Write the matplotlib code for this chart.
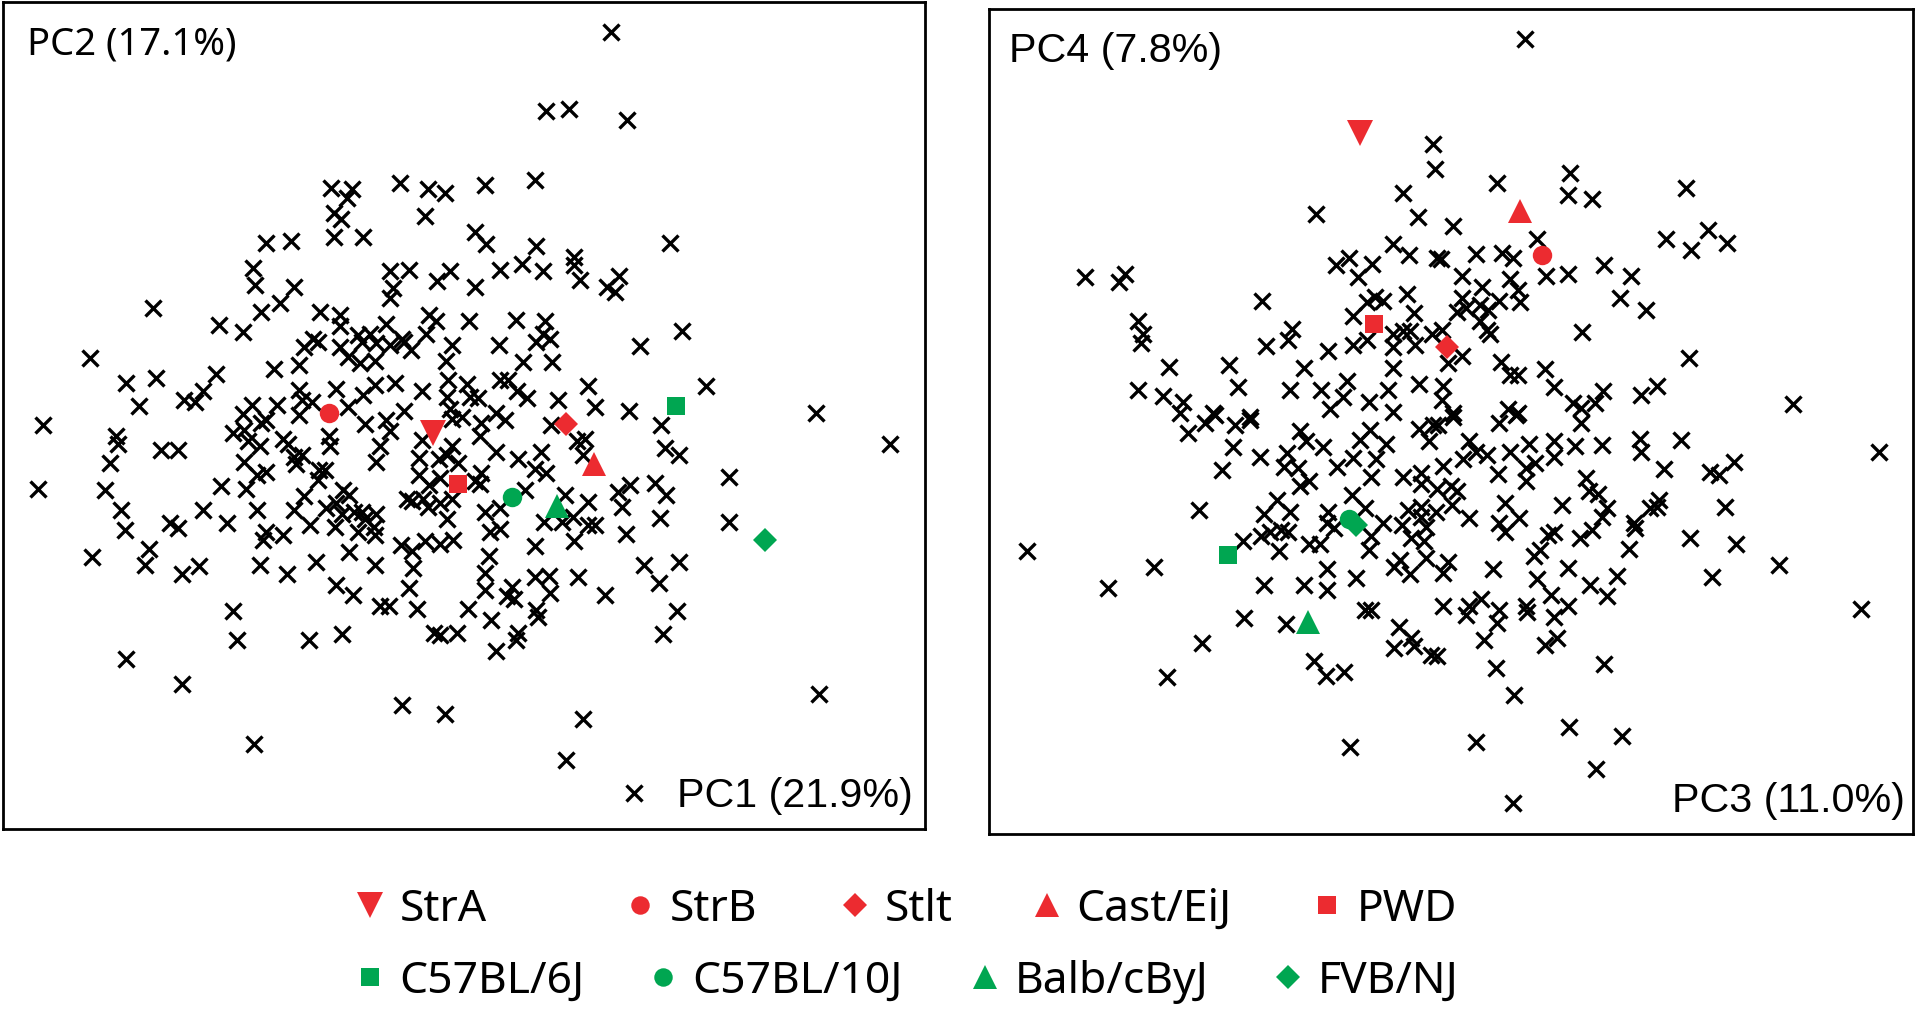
import numpy as np
import matplotlib.pyplot as plt
from matplotlib.lines import Line2D

# explained variance of the components (%)
pc_var = [21.9, 17.1, 11.0, 7.8]

# PC1 / PC2 scores of the individual mice (black crosses), arbitrary units
left_scores = [
    (-129, 246), (-112, 245), (-116, 238), (-127, 226), (-121, 221), (-127, 206),
    (-103, 206), (-182, 201), (-162, 203), (-193, 181), (-191, 167), (-159, 165),
    (-171, 152), (-186, 145), (-275, 148), (-221, 134), (-201, 128), (-138, 145),
    (-122, 142), (-122, 133), (-107, 126), (-97, 127), (-144, 123),
    (100, 374), (47, 309), (66, 311), (113, 302), (-73, 250), (-50, 245),
    (-36, 242), (-52, 223), (-3, 249), (38, 253), (-11, 210), (-2, 200),
    (39, 199), (148, 201), (70, 190), (70, 183), (75, 171), (97, 165),
    (107, 174), (103, 161), (-81, 178), (-65, 179), (-42, 170), (-32, 178),
    (-11, 165), (9, 179), (27, 184), (44, 178), (-78, 164), (-81, 156),
    (-84, 135), (-49, 142), (-43, 137), (-16, 137), (22, 138), (46, 137),
    (44, 127), (158, 129), (-51, 127), (-71, 123),
    (-326, 107), (-297, 87), (-272, 91), (-223, 94), (-249, 73), (-234, 80),
    (-240, 71), (-286, 68), (-365, 52), (-305, 43), (-303, 37), (-268, 32),
    (-254, 32), (-310, 21), (-369, 0), (-314, -1), (-301, -17), (-298, -34),
    (-278, -49), (-281, -62), (-325, -56), (-251, -70), (-237, -63), (-261, -28),
    (-254, -32), (-234, -17), (-214, -28), (-219, 2), (-199, 0), (-209, -100),
    (-206, -124), (-147, -124), (-120, -119), (-297, -139), (-251, -160),
    (-187, -62), (-165, -70), (-141, -60), (-114, -52), (-125, -79), (-111, -87),
    (-176, 98), (-155, 101), (-151, 116), (-140, 120), (-122, 116), (-104, 120),
    (-115, 108), (-105, 103), (-125, 82), (-115, 67), (-103, 77), (-101, 53),
    (-131, 43), (-130, 35), (-155, 81), (-153, 73), (-145, 71), (-155, 60),
    (-173, 69), (-194, 69), (-201, 61), (-182, 56), (-186, 54), (-209, 46),
    (-200, 48), (-197, 39), (-187, 35), (-168, 41), (-164, 37), (-159, 26),
    (-153, 28), (-158, 20), (-200, 22), (-190, 11), (-182, 14), (-139, 15),
    (-134, 15), (-140, 7), (-151, -6), (-159, -17), (-146, -30), (-190, -17),
    (-182, -35), (-185, -42), (-168, -38), (-133, -16), (-125, -12), (-119, -1),
    (-114, -5), (-120, -21), (-126, -31), (-110, -19), (-104, -19), (-101, -25),
    (-107, -35),
    (-92, 119), (-81, 118), (-69, 120), (-64, 114), (-30, 118), (8, 118),
    (39, 120), (50, 123), (124, 117), (-93, 105), (-35, 105), (28, 104),
    (52, 104), (178, 84), (81, 84), (87, 67), (115, 64), (141, 52),
    (144, 33), (156, 28), (197, 10), (197, -27), (-93, 85), (-77, 87),
    (-55, 80), (-33, 89), (-34, 75), (-18, 86), (-15, 75), (-9, 74),
    (9, 89), (16, 89), (23, 80), (31, 74), (57, 73), (-69, 64),
    (-84, 56), (-81, 47), (-32, 65), (-30, 57), (-22, 59), (-6, 54),
    (-7, 43), (6, 62), (13, 56), (51, 52), (72, 39), (79, 41),
    (77, 28), (-89, 35), (-92, 22), (-55, 40), (-57, 25), (-41, 24),
    (-34, 28), (-30, 35), (-25, 21), (6, 30), (24, 24), (43, 30),
    (38, 16), (47, 13), (-57, 11), (-49, 3), (-40, 9), (-11, 6),
    (-6, 13), (-7, 4), (30, -1), (-67, -8), (-63, -10), (-54, -8),
    (-50, -15), (-40, -12), (-30, -8), (-3, -19), (9, -16), (62, -5),
    (81, -11), (106, -3), (116, 3), (136, 5), (145, -5), (109, -15),
    (140, -24), (-92, -21), (-94, -31), (-93, -38), (-34, -25), (1, -35),
    (9, -33), (45, -27), (60, -27), (69, -23), (81, -30), (87, -30),
    (112, -37), (70, -43), (38, -47), (-72, -46), (-63, -51), (-52, -43),
    (-40, -45), (-29, -42), (0, -55), (-93, -62), (-62, -65), (-3, -69),
    (38, -72), (49, -71), (73, -72), (127, -62), (156, -60), (139, -77),
    (95, -87), (-65, -81), (-3, -83), (19, -80), (15, -88), (21, -90),
    (50, -85), (-89, -96), (-82, -96), (-59, -98), (-17, -98), (2, -107),
    (39, -99), (40, -105), (154, -100), (-45, -118), (-40, -120), (-26, -118),
    (24, -118), (22, -124), (6, -133), (143, -119),
    (268, 62), (328, 37), (270, -168), (119, -249), (63, -222), (77, -188),
    (-71, -177), (-36, -184), (-192, -209),
]

# PC3 / PC4 scores of the individual mice
right_scores = [
    (-27, 282), (-26, 262), (-52, 242), (-123, 225), (-40, 222), (-60, 200),
    (-47, 191), (-24, 189), (-107, 183), (-96, 189), (-77, 184), (-89, 173),
    (-312, 173), (-279, 176), (-284, 169), (-167, 154), (-49, 159), (-81, 153),
    (-75, 157), (-68, 154), (-43, 144), (-93, 141), (-269, 137), (-265, 127),
    (-266, 119), (-143, 131), (-146, 122), (-164, 117), (-113, 113), (-93, 118),
    (-81, 122), (-60, 127), (-52, 129), (-46, 129), (-60, 116), (-42, 118),
    (-28, 127), (-243, 100), (-194, 101), (-187, 83), (-133, 99), (-60, 99),
    (-39, 86), (-269, 81), (-248, 76), (-232, 71), (-234, 62), (-207, 62),
    (-177, 59), (-144, 81), (-119, 81), (-98, 88), (-101, 75), (-112, 65),
    (-80, 71), (-64, 81), (-60, 63),
    (48, 368), (25, 250), (85, 258), (83, 240), (103, 237), (180, 246),
    (-11, 215), (58, 204), (163, 204), (184, 195), (198, 212), (213, 201),
    (-21, 188), (8, 192), (29, 193), (38, 189), (-4, 174), (13, 165),
    (36, 172), (42, 163), (44, 153), (27, 154), (65, 174), (83, 176),
    (113, 183), (135, 174), (126, 156), (147, 146), (-4, 156), (0, 148),
    (-8, 145), (11, 150), (18, 146), (11, 137), (17, 130), (19, 127),
    (-20, 130), (95, 128), (182, 107), (-4, 109), (-15, 103), (28, 104),
    (36, 93), (42, 93), (64, 98), (72, 83), (-19, 84), (-20, 73),
    (112, 80), (105, 70), (87, 70), (94, 66), (143, 77), (156, 84),
    (267, 69), (34, 65), (42, 62), (-11, 62),
    (-360, -51), (-256, -64), (-293, -81), (-219, -17), (-182, -106), (-148, -111),
    (-216, -126), (-245, -154), (-125, -141), (-115, -153), (-100, -150), (-95, -211),
    (-166, -79), (-133, -79), (-114, -83), (-114, -66), (-90, -73), (-83, -99),
    (-78, -99), (-55, -113), (-45, -122), (-59, -130), (-43, -129), (-29, -136),
    (-183, -43), (-168, -39), (-161, -35), (-152, -34), (-146, -35), (-153, -51),
    (-166, -21), (-144, -19), (-155, -9), (-129, -45), (-120, -45), (-114, -28),
    (-113, -19), (-108, -32), (-94, -5), (-83, -16), (-78, -39), (-80, -50),
    (-68, -28), (-53, -30), (-48, -17), (-37, -15), (-37, -23), (-33, -31),
    (-45, -40), (-35, -43), (-54, -58), (-59, -64), (-46, -70), (-33, -57),
    (-106, 18), (-93, 25), (-78, 10), (-74, 24), (-87, 40), (-79, 48),
    (-66, 37), (-52, 10), (-37, 13), (-37, 4), (-39, 49), (-31, 39),
    (-27, 52), (-117, 34), (-136, 47), (-131, 39), (-147, 29), (-138, 17),
    (-129, 6), (-136, 2), (-149, 18), (-169, 26), (-191, 34), (-200, 15),
    (-228, 46), (-214, 54), (-206, 60), (-189, 52), (-177, 56),
    (338, 30), (323, -98), (256, -62), (201, -72), (221, -45), (183, -40),
    (212, -15), (219, 22), (207, 11), (199, 14), (176, 40), (162, 16),
    (142, 41), (143, 30), (158, -9), (156, -15), (150, -16), (137, -28),
    (138, -32), (133, -49), (123, -71), (115, -88), (101, -79), (83, -96),
    (83, -65), (72, -105), (74, -122), (64, -128), (50, -101), (49, -96),
    (69, -87), (58, -74), (55, -55), (60, -50), (67, -38), (72, -35),
    (93, -40), (103, -34), (111, -23), (115, -16), (108, -4), (100, -2),
    (98, 9), (78, -13), (72, 39), (72, 26), (89, 35), (111, 36),
    (94, 54), (56, 21), (49, 17), (49, 6), (51, 37), (36, 30),
    (43, -24), (32, -12), (27, -28), (32, -35), (22, -66), (26, 12),
    (27, 54), (41, 60), (17, 28), (8, 30), (2, 39), (-3, 24),
    (-8, -2), (-13, 2), (-24, 0), (-12, -13), (-25, -19), (2, -24),
    (-19, 19), (-23, 52), (-11, 59), (-15, -60), (-19, -69), (-19, -96),
    (2, -96), (0, -103), (12, -90), (27, -99), (25, -110), (14, -124),
    (-24, -137), (24, -147), (39, -169), (113, -143), (8, -207), (84, -195),
    (127, -202), (106, -229), (38, -257),
]

# reference strains
strains = ["StrA", "StrB", "Stlt", "Cast/EiJ", "PWD",
           "C57BL/6J", "C57BL/10J", "Balb/cByJ", "FVB/NJ"]
strain_pc1 = [-46, -131, 63, 86, -25, 153, 19, 56, 226]
strain_pc2 = [46, 62, 53, 20, 4, 68, -7, -14, -42]
strain_pc3 = [-87, 62, -16, 44, -76, -195, -96, -130, -90]
strain_pc4 = [291, 191, 116, 227, 135, -54, -25, -109, -30]

RED = "#EC2B30"
GREEN = "#00A651"
strain_marker = ["v", "o", "D", "^", "s", "s", "o", "^", "D"]
strain_color = [RED] * 5 + [GREEN] * 4
msize = {"v": 19, "o": 14, "D": 12.5, "^": 17.5, "s": 13}

W, H = 1916, 1013
fig = plt.figure(figsize=(W / 100, H / 100), dpi=100)

ax1 = fig.add_axes([3 / W, 1 - 829 / H, 922 / W, 827 / H])
ax2 = fig.add_axes([989 / W, 1 - 834 / H, 924 / W, 825 / H])


def draw_panel(ax, scores, sx, sy):
    xs, ys = np.array(scores).T
    ax.plot(xs, ys, ls="none", marker="x", ms=11.5, mew=2.4, color="black", zorder=2)
    for x, y, m, c in zip(sx, sy, strain_marker, strain_color):
        ax.plot([x], [y], ls="none", marker=m, ms=msize[m], color=c, mew=0, zorder=3)
    ax.set_xticks([])
    ax.set_yticks([])
    for sp in ax.spines.values():
        sp.set_linewidth(2.0)
        sp.set_color("black")


draw_panel(ax1, left_scores, strain_pc1, strain_pc2)
ax1.set_xlim(-397.5, 357)
ax1.set_ylim(-278.4, 398.4)
ax1.text(0.026, 0.936, f"PC2 ({pc_var[1]:.1f}%)", transform=ax1.transAxes,
         ha="left", va="baseline", fontsize=27.5, family="Noto Sans")
ax1.text(0.987, 0.0266, f"PC1 ({pc_var[0]:.1f}%)", transform=ax1.transAxes,
         ha="right", va="baseline", fontsize=29.7, family="Liberation Sans")

draw_panel(ax2, right_scores, strain_pc3, strain_pc4)
ax2.set_xlim(-390.7, 365.5)
ax2.set_ylim(-282.5, 392.6)
ax2.text(0.0216, 0.936, f"PC4 ({pc_var[3]:.1f}%)", transform=ax2.transAxes,
         ha="left", va="baseline", fontsize=29.7, family="Liberation Sans")
ax2.text(0.991, 0.027, f"PC3 ({pc_var[2]:.1f}%)", transform=ax2.transAxes,
         ha="right", va="baseline", fontsize=29.7, family="Liberation Sans")

# legend: two rows of keys placed under the panels (pixel layout)
leg_fs = 32
leg_hl = 0.8
fs_px = leg_fs * 100 / 72
key_x = [370, 640, 855, 1047, 1327, 370, 663, 985, 1288]
key_y = [910] * 5 + [982] * 4
for name, m, c, kx, ky in zip(strains, strain_marker, strain_color, key_x, key_y):
    h = Line2D([], [], ls="none", marker=m, ms=msize[m] * 0.95, color=c, mew=0)
    fig.legend(handles=[h], labels=[name], loc="center left",
               bbox_to_anchor=((kx - leg_hl * fs_px / 2) / W, 1 - ky / H),
               frameon=False, borderpad=0, borderaxespad=0,
               handlelength=leg_hl, handletextpad=0.26,
               prop={"family": "Noto Sans", "size": leg_fs})

fig.savefig("out.png", dpi=100)
